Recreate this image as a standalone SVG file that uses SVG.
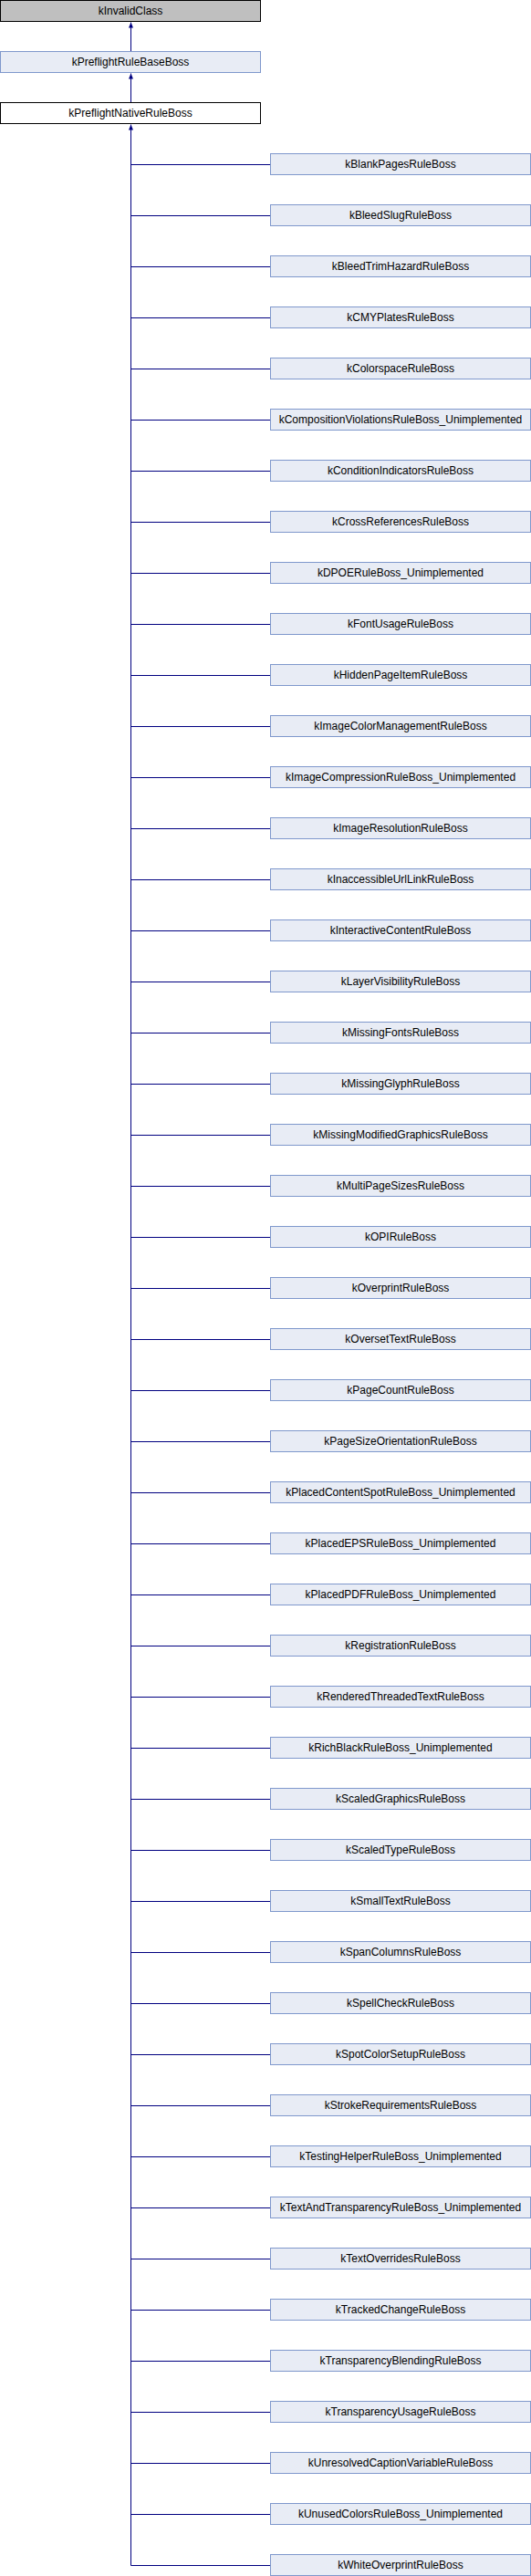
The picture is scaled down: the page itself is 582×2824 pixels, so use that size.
<svg xmlns="http://www.w3.org/2000/svg" width="582" height="2824" viewBox="0 0 582 2824">
<style>
.t{font-family:"Liberation Sans",Arial,sans-serif;font-size:12px;fill:#000;text-anchor:middle}
.b{fill:#E8ECF5;stroke:#7F98CC;stroke-width:1}
.g{fill:#BFBFBF;stroke:#000;stroke-width:1}
.w{fill:#FFFFFF;stroke:#000;stroke-width:1}
.c{stroke:#000080;stroke-width:1;fill:none}
</style>
<defs>
<marker id="arr" viewBox="0 0 6 6" refX="6" refY="3" markerWidth="6" markerHeight="6" markerUnits="userSpaceOnUse" orient="auto">
<path d="M0,0.5 L6,3 L0,5.5 z" fill="#000080"/>
</marker>
</defs>
<g id="connectors">
<line class="c" x1="143.5" y1="56" x2="143.5" y2="24.5" marker-end="url(#arr)"/>
<line class="c" x1="143.5" y1="112" x2="143.5" y2="80.5" marker-end="url(#arr)"/>
<line class="c" x1="143.5" y1="2812.5" x2="143.5" y2="136.5" marker-end="url(#arr)"/>
<path class="c" d="M143.5,180.5H296M143.5,236.5H296M143.5,292.5H296M143.5,348.5H296M143.5,404.5H296M143.5,460.5H296M143.5,516.5H296M143.5,572.5H296M143.5,628.5H296M143.5,684.5H296M143.5,740.5H296M143.5,796.5H296M143.5,852.5H296M143.5,908.5H296M143.5,964.5H296M143.5,1020.5H296M143.5,1076.5H296M143.5,1132.5H296M143.5,1188.5H296M143.5,1244.5H296M143.5,1300.5H296M143.5,1356.5H296M143.5,1412.5H296M143.5,1468.5H296M143.5,1524.5H296M143.5,1580.5H296M143.5,1636.5H296M143.5,1692.5H296M143.5,1748.5H296M143.5,1804.5H296M143.5,1860.5H296M143.5,1916.5H296M143.5,1972.5H296M143.5,2028.5H296M143.5,2084.5H296M143.5,2140.5H296M143.5,2196.5H296M143.5,2252.5H296M143.5,2308.5H296M143.5,2364.5H296M143.5,2420.5H296M143.5,2476.5H296M143.5,2532.5H296M143.5,2588.5H296M143.5,2644.5H296M143.5,2700.5H296M143.5,2756.5H296M143.5,2812.5H296"/>
</g>
<g id="kInvalidClass"><rect class="g" x="0.5" y="0.5" width="285" height="23"/><text class="t" x="143" y="15.5">kInvalidClass</text></g>
<g id="kPreflightRuleBaseBoss"><rect class="b" x="0.5" y="56.5" width="285" height="23"/><text class="t" x="143" y="71.5">kPreflightRuleBaseBoss</text></g>
<g id="kPreflightNativeRuleBoss"><rect class="w" x="0.5" y="112.5" width="285" height="23"/><text class="t" x="143" y="127.5">kPreflightNativeRuleBoss</text></g>
<g id="n1"><rect class="b" x="296.5" y="168.5" width="285" height="23"/><text class="t" x="439" y="183.5">kBlankPagesRuleBoss</text></g>
<g id="n2"><rect class="b" x="296.5" y="224.5" width="285" height="23"/><text class="t" x="439" y="239.5">kBleedSlugRuleBoss</text></g>
<g id="n3"><rect class="b" x="296.5" y="280.5" width="285" height="23"/><text class="t" x="439" y="295.5">kBleedTrimHazardRuleBoss</text></g>
<g id="n4"><rect class="b" x="296.5" y="336.5" width="285" height="23"/><text class="t" x="439" y="351.5">kCMYPlatesRuleBoss</text></g>
<g id="n5"><rect class="b" x="296.5" y="392.5" width="285" height="23"/><text class="t" x="439" y="407.5">kColorspaceRuleBoss</text></g>
<g id="n6"><rect class="b" x="296.5" y="448.5" width="285" height="23"/><text class="t" x="439" y="463.5">kCompositionViolationsRuleBoss_Unimplemented</text></g>
<g id="n7"><rect class="b" x="296.5" y="504.5" width="285" height="23"/><text class="t" x="439" y="519.5">kConditionIndicatorsRuleBoss</text></g>
<g id="n8"><rect class="b" x="296.5" y="560.5" width="285" height="23"/><text class="t" x="439" y="575.5">kCrossReferencesRuleBoss</text></g>
<g id="n9"><rect class="b" x="296.5" y="616.5" width="285" height="23"/><text class="t" x="439" y="631.5">kDPOERuleBoss_Unimplemented</text></g>
<g id="n10"><rect class="b" x="296.5" y="672.5" width="285" height="23"/><text class="t" x="439" y="687.5">kFontUsageRuleBoss</text></g>
<g id="n11"><rect class="b" x="296.5" y="728.5" width="285" height="23"/><text class="t" x="439" y="743.5">kHiddenPageItemRuleBoss</text></g>
<g id="n12"><rect class="b" x="296.5" y="784.5" width="285" height="23"/><text class="t" x="439" y="799.5">kImageColorManagementRuleBoss</text></g>
<g id="n13"><rect class="b" x="296.5" y="840.5" width="285" height="23"/><text class="t" x="439" y="855.5">kImageCompressionRuleBoss_Unimplemented</text></g>
<g id="n14"><rect class="b" x="296.5" y="896.5" width="285" height="23"/><text class="t" x="439" y="911.5">kImageResolutionRuleBoss</text></g>
<g id="n15"><rect class="b" x="296.5" y="952.5" width="285" height="23"/><text class="t" x="439" y="967.5">kInaccessibleUrlLinkRuleBoss</text></g>
<g id="n16"><rect class="b" x="296.5" y="1008.5" width="285" height="23"/><text class="t" x="439" y="1023.5">kInteractiveContentRuleBoss</text></g>
<g id="n17"><rect class="b" x="296.5" y="1064.5" width="285" height="23"/><text class="t" x="439" y="1079.5">kLayerVisibilityRuleBoss</text></g>
<g id="n18"><rect class="b" x="296.5" y="1120.5" width="285" height="23"/><text class="t" x="439" y="1135.5">kMissingFontsRuleBoss</text></g>
<g id="n19"><rect class="b" x="296.5" y="1176.5" width="285" height="23"/><text class="t" x="439" y="1191.5">kMissingGlyphRuleBoss</text></g>
<g id="n20"><rect class="b" x="296.5" y="1232.5" width="285" height="23"/><text class="t" x="439" y="1247.5">kMissingModifiedGraphicsRuleBoss</text></g>
<g id="n21"><rect class="b" x="296.5" y="1288.5" width="285" height="23"/><text class="t" x="439" y="1303.5">kMultiPageSizesRuleBoss</text></g>
<g id="n22"><rect class="b" x="296.5" y="1344.5" width="285" height="23"/><text class="t" x="439" y="1359.5">kOPIRuleBoss</text></g>
<g id="n23"><rect class="b" x="296.5" y="1400.5" width="285" height="23"/><text class="t" x="439" y="1415.5">kOverprintRuleBoss</text></g>
<g id="n24"><rect class="b" x="296.5" y="1456.5" width="285" height="23"/><text class="t" x="439" y="1471.5">kOversetTextRuleBoss</text></g>
<g id="n25"><rect class="b" x="296.5" y="1512.5" width="285" height="23"/><text class="t" x="439" y="1527.5">kPageCountRuleBoss</text></g>
<g id="n26"><rect class="b" x="296.5" y="1568.5" width="285" height="23"/><text class="t" x="439" y="1583.5">kPageSizeOrientationRuleBoss</text></g>
<g id="n27"><rect class="b" x="296.5" y="1624.5" width="285" height="23"/><text class="t" x="439" y="1639.5">kPlacedContentSpotRuleBoss_Unimplemented</text></g>
<g id="n28"><rect class="b" x="296.5" y="1680.5" width="285" height="23"/><text class="t" x="439" y="1695.5">kPlacedEPSRuleBoss_Unimplemented</text></g>
<g id="n29"><rect class="b" x="296.5" y="1736.5" width="285" height="23"/><text class="t" x="439" y="1751.5">kPlacedPDFRuleBoss_Unimplemented</text></g>
<g id="n30"><rect class="b" x="296.5" y="1792.5" width="285" height="23"/><text class="t" x="439" y="1807.5">kRegistrationRuleBoss</text></g>
<g id="n31"><rect class="b" x="296.5" y="1848.5" width="285" height="23"/><text class="t" x="439" y="1863.5">kRenderedThreadedTextRuleBoss</text></g>
<g id="n32"><rect class="b" x="296.5" y="1904.5" width="285" height="23"/><text class="t" x="439" y="1919.5">kRichBlackRuleBoss_Unimplemented</text></g>
<g id="n33"><rect class="b" x="296.5" y="1960.5" width="285" height="23"/><text class="t" x="439" y="1975.5">kScaledGraphicsRuleBoss</text></g>
<g id="n34"><rect class="b" x="296.5" y="2016.5" width="285" height="23"/><text class="t" x="439" y="2031.5">kScaledTypeRuleBoss</text></g>
<g id="n35"><rect class="b" x="296.5" y="2072.5" width="285" height="23"/><text class="t" x="439" y="2087.5">kSmallTextRuleBoss</text></g>
<g id="n36"><rect class="b" x="296.5" y="2128.5" width="285" height="23"/><text class="t" x="439" y="2143.5">kSpanColumnsRuleBoss</text></g>
<g id="n37"><rect class="b" x="296.5" y="2184.5" width="285" height="23"/><text class="t" x="439" y="2199.5">kSpellCheckRuleBoss</text></g>
<g id="n38"><rect class="b" x="296.5" y="2240.5" width="285" height="23"/><text class="t" x="439" y="2255.5">kSpotColorSetupRuleBoss</text></g>
<g id="n39"><rect class="b" x="296.5" y="2296.5" width="285" height="23"/><text class="t" x="439" y="2311.5">kStrokeRequirementsRuleBoss</text></g>
<g id="n40"><rect class="b" x="296.5" y="2352.5" width="285" height="23"/><text class="t" x="439" y="2367.5">kTestingHelperRuleBoss_Unimplemented</text></g>
<g id="n41"><rect class="b" x="296.5" y="2408.5" width="285" height="23"/><text class="t" x="439" y="2423.5">kTextAndTransparencyRuleBoss_Unimplemented</text></g>
<g id="n42"><rect class="b" x="296.5" y="2464.5" width="285" height="23"/><text class="t" x="439" y="2479.5">kTextOverridesRuleBoss</text></g>
<g id="n43"><rect class="b" x="296.5" y="2520.5" width="285" height="23"/><text class="t" x="439" y="2535.5">kTrackedChangeRuleBoss</text></g>
<g id="n44"><rect class="b" x="296.5" y="2576.5" width="285" height="23"/><text class="t" x="439" y="2591.5">kTransparencyBlendingRuleBoss</text></g>
<g id="n45"><rect class="b" x="296.5" y="2632.5" width="285" height="23"/><text class="t" x="439" y="2647.5">kTransparencyUsageRuleBoss</text></g>
<g id="n46"><rect class="b" x="296.5" y="2688.5" width="285" height="23"/><text class="t" x="439" y="2703.5">kUnresolvedCaptionVariableRuleBoss</text></g>
<g id="n47"><rect class="b" x="296.5" y="2744.5" width="285" height="23"/><text class="t" x="439" y="2759.5">kUnusedColorsRuleBoss_Unimplemented</text></g>
<g id="n48"><rect class="b" x="296.5" y="2800.5" width="285" height="23"/><text class="t" x="439" y="2815.5">kWhiteOverprintRuleBoss</text></g>
</svg>
